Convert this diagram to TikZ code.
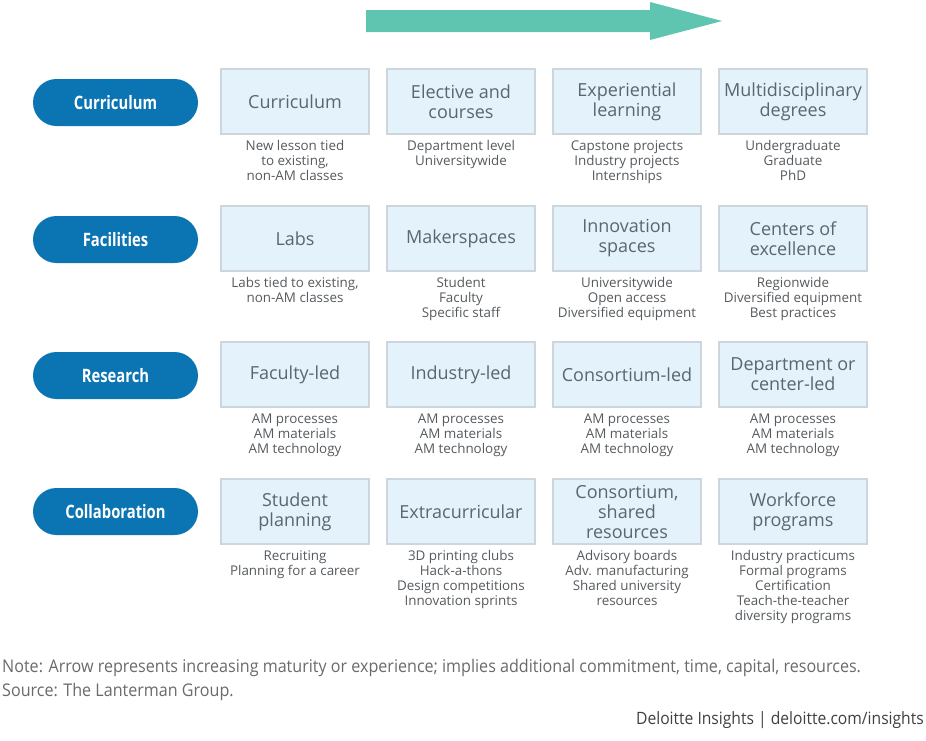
\documentclass[tikz,border=0pt]{standalone}
\usepackage{fontspec}
\setmainfont{Open Sans}
\newfontfamily\pillfont[FakeStretch=0.8]{Open Sans Bold}
\newfontfamily\condfont[FakeStretch=0.92]{Open Sans}
\definecolor{pillblue}{HTML}{0B74B3}
\definecolor{teal}{HTML}{5FC4B0}
\definecolor{boxfill}{HTML}{E4F2FB}
\definecolor{boxline}{HTML}{CDD6DC}
\definecolor{titlegray}{HTML}{5A6670}
\definecolor{subgray}{HTML}{555A5E}
\definecolor{notegray}{HTML}{6A6A6A}
\tikzset{
  pill/.style={draw=none, fill=pillblue, rounded corners=23.5pt, minimum width=165pt, minimum height=47pt, text=white, font=\pillfont\fontsize{18.5}{20}\selectfont, inner sep=0pt},
  stagebox/.style={draw=boxline, line width=1.2pt, fill=boxfill, minimum width=148pt, minimum height=65pt, text=titlegray, align=center, inner sep=0pt, font=\fontsize{18}{20}\selectfont},
  sub/.style={anchor=north, align=center, text=subgray, inner sep=0pt, font=\fontsize{13.4}{15}\selectfont},
  note/.style={anchor=west, text=notegray, inner sep=0pt, font=\condfont\fontsize{17.5}{19}\selectfont}
}
\begin{document}
\begin{tikzpicture}[x=1pt,y=-1pt]
\useasboundingbox (0,0) rectangle (926,740);
% arrow
\fill[teal] (366,10) -- (650,10) -- (650,2) -- (722,21) -- (650,40) -- (650,32) -- (366,32) -- cycle;
% pills
\node[pill] (p1) at (115.5,102.5) {Curriculum};
\node[pill] (p2) at (115.5,239.5) {Facilities};
\node[pill] (p3) at (115.5,375.5) {Research};
\node[pill] (p4) at (115.5,511.5) {Collaboration};
% row 1
\node[stagebox] (b11) at (295,101.5) {Curriculum};
\node[stagebox] (b12) at (461,101.5) {Elective and\\courses};
\node[stagebox] (b13) at (627,101.5) {Experiential\\learning};
\node[stagebox] (b14) at (793,101.5) {Multidisciplinary\\degrees};
\node[sub] (s11) at ([yshift=-6pt]b11.south) {New lesson tied\\to existing,\\non-AM classes};
\node[sub] (s12) at ([yshift=-6pt]b12.south) {Department level\\Universitywide};
\node[sub] (s13) at ([yshift=-6pt]b13.south) {Capstone projects\\Industry projects\\Internships};
\node[sub] (s14) at ([yshift=-6pt]b14.south) {Undergraduate\\Graduate\\PhD};
% row 2
\node[stagebox] (b21) at (295,238.5) {Labs};
\node[stagebox] (b22) at (461,238.5) {Makerspaces};
\node[stagebox] (b23) at (627,238.5) {Innovation\\spaces};
\node[stagebox] (b24) at (793,238.5) {Centers of\\excellence};
\node[sub] (s21) at ([yshift=-6pt]b21.south) {Labs tied to existing,\\non-AM classes};
\node[sub] (s22) at ([yshift=-6pt]b22.south) {Student\\Faculty\\Specific staff};
\node[sub] (s23) at ([yshift=-6pt]b23.south) {Universitywide\\Open access\\Diversified equipment};
\node[sub] (s24) at ([yshift=-6pt]b24.south) {Regionwide\\Diversified equipment\\Best practices};
% row 3
\node[stagebox] (b31) at (295,374.5) {Faculty-led};
\node[stagebox] (b32) at (461,374.5) {Industry-led};
\node[stagebox] (b33) at (627,374.5) {Consortium-led};
\node[stagebox] (b34) at (793,374.5) {Department or\\center-led};
\node[sub] (s31) at ([yshift=-6pt]b31.south) {AM processes\\AM materials\\AM technology};
\node[sub] (s32) at ([yshift=-6pt]b32.south) {AM processes\\AM materials\\AM technology};
\node[sub] (s33) at ([yshift=-6pt]b33.south) {AM processes\\AM materials\\AM technology};
\node[sub] (s34) at ([yshift=-6pt]b34.south) {AM processes\\AM materials\\AM technology};
% row 4
\node[stagebox] (b41) at (295,511.5) {Student\\planning};
\node[stagebox] (b42) at (461,511.5) {Extracurricular};
\node[stagebox] (b43) at (627,511.5) {Consortium,\\shared\\resources};
\node[stagebox] (b44) at (793,511.5) {Workforce\\programs};
\node[sub] (s41) at ([yshift=-6pt]b41.south) {Recruiting\\Planning for a career};
\node[sub] (s42) at ([yshift=-6pt]b42.south) {3D printing clubs\\Hack-a-thons\\Design competitions\\Innovation sprints};
\node[sub] (s43) at ([yshift=-6pt]b43.south) {Advisory boards\\Adv. manufacturing\\Shared university\\resources};
\node[sub] (s44) at ([yshift=-6pt]b44.south) {Industry practicums\\Formal programs\\Certification\\Teach-the-teacher\\diversity programs};
% footer
\node[note] (n1) at (2,668) {Note: Arrow represents increasing maturity or experience; implies additional commitment, time, capital, resources.};
\node[note] (n2) at (2,692) {Source: The Lanterman Group.};
\node[note, anchor=east, text=black!75, font=\condfont\fontsize{17}{19}\selectfont] (n3) at (924,720) {Deloitte Insights | deloitte.com/insights};
\end{tikzpicture}
\end{document}
